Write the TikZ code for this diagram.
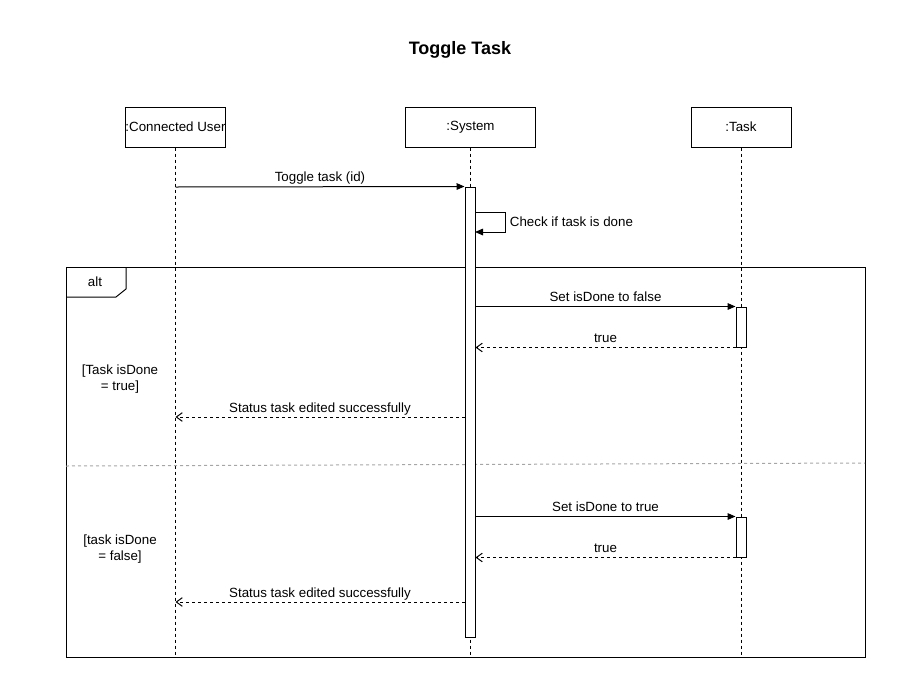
\documentclass[tikz,border=0pt]{standalone}
\usepackage{fontspec}
\setmainfont{Liberation Sans}
\usetikzlibrary{arrows.meta,positioning}

\begin{document}
\begin{tikzpicture}[
            x = 0.75pt, y = -0.75pt, % pixel grid, y going down
            > = {Triangle[length=6pt,width=5pt]}, % call arrow head
            line width = 0.75pt,
            font = \fontsize{10}{12}\selectfont,
            life/.style = {shape=rectangle, draw=black, minimum width=75pt, minimum height=30pt, inner sep=0pt},
            bar/.style = {shape=rectangle, draw=black, fill=white, minimum width=7.5pt, inner sep=0pt},
            lbl/.style = {above, text depth=0pt},
            lifeline/.style = {dash pattern=on 2.25pt off 2.25pt},
            reply/.style = {dash pattern=on 2.25pt off 2.25pt, -{Straight Barb[length=4.5pt,width=6.5pt]}}
        ]

\useasboundingbox (0,0) rectangle (921,693);

\node[font=\fontsize{13.5}{16}\selectfont\bfseries] (title) at (460,50) {Toggle Task};

% lifelines
\node[life] (U) at (175.5,127) {:Connected User};
\node[life, minimum width=97.5pt] (S) at (470.5,127) {:System};
\node[life] (T) at (741,127) {:Task};

\coordinate (Uend) at (175.5,656);
\coordinate (Send) at (470.5,656);
\coordinate (Tend) at (741,656);

\draw[lifeline] (U) -- (Uend);
\draw[lifeline] (S) -- (Send);
\draw[lifeline] (T) -- (Tend);

% alt frame
\draw (66,267) rectangle (865,657);
\draw (66,297) -- (116,297) -- (126,289) -- (126,267);
\node (alt) at (95,282) {alt};
\draw[gray!70, dash pattern=on 2.25pt off 2.25pt] (66,466) -- (865,463);

\node[align=center] (g1) at (120,379) {[Task isDone\\= true]};
\node[align=center] (g2) at (120,549) {[task isDone\\= false]};

% activations
\node[bar, minimum height=337.5pt] (Sbar) at (470,412) {};
\node[bar, minimum height=30pt] (Tbar1) at (741,327) {};
\node[bar, minimum height=30pt] (Tbar2) at (741,537) {};

\coordinate (u1) at (175.5,187);
\coordinate (u2) at (175.5,417);
\coordinate (u3) at (175.5,602);
\coordinate (c1) at (475,212);
\coordinate (c2) at (475,232);

% messages
 \path [->] (u1) edge node[lbl] {Toggle task (id)} (Sbar.north west);
 \draw [->] (c1) -- ++(30,0) -- node[right] {Check if task is done} ++(0,20) -- (c2);
 \path [->] (Sbar.east |- Tbar1.north) edge node[lbl] {Set isDone to false} (Tbar1.north west);
 \path [reply] (Tbar1.south west) edge node[lbl] {true} (Sbar.east |- Tbar1.south);
 \path [reply] (Sbar.west |- u2) edge node[lbl] {Status task edited successfully} (u2);
 \path [->] (Sbar.east |- Tbar2.north) edge node[lbl] {Set isDone to true} (Tbar2.north west);
 \path [reply] (Tbar2.south west) edge node[lbl] {true} (Sbar.east |- Tbar2.south);
 \path [reply] (Sbar.west |- u3) edge node[lbl] {Status task edited successfully} (u3);
\end{tikzpicture}
\end{document}
